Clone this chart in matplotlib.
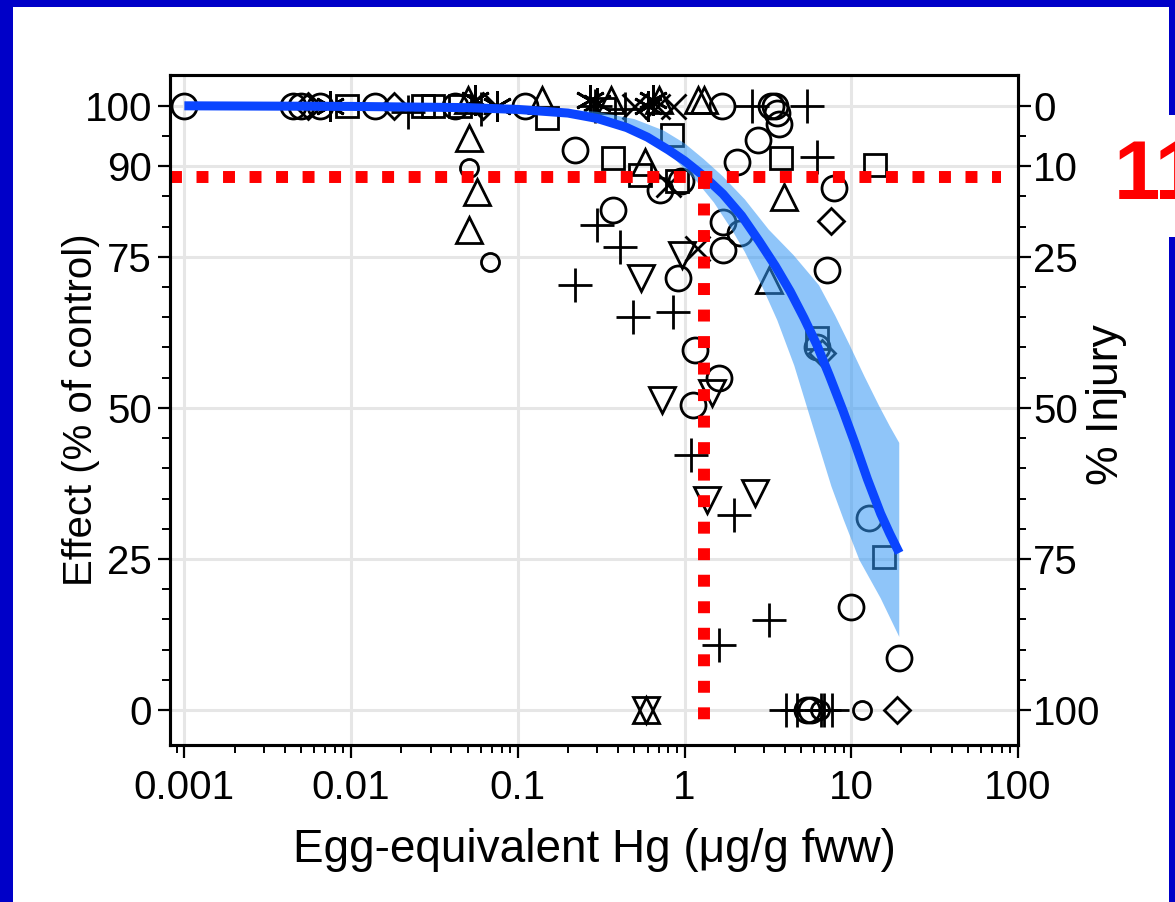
import matplotlib
matplotlib.use("Agg")
import matplotlib.pyplot as plt
from matplotlib.patches import Rectangle
from matplotlib.ticker import FixedLocator, LogLocator, NullFormatter

plt.rcParams['font.family'] = ['Liberation Sans', 'DejaVu Sans']

# ---- data (Hg in ug/g fww, effect in % of control) ----
circle_x = [0.001, 0.0045, 0.005, 0.0065, 0.014, 0.042, 0.11, 1.68, 3.3, 3.5, 3.6, 3.7,
            0.22, 0.71, 0.95, 0.37, 0.91, 1.69, 2.14, 1.69, 2.05, 2.74, 7.9, 7.2,
            1.15, 1.62, 1.12, 10.0, 19.4, 12.8, 6.2, 5.45, 5.7]
circle_y = [100, 100, 100, 100, 100, 100, 100, 100, 100, 100, 98.8, 97.0,
            92.7, 86.1, 87.5, 82.8, 71.5, 80.8, 79.0, 76.2, 90.7, 94.4, 86.4, 72.8,
            59.6, 55.0, 50.5, 17.0, 8.6, 31.8, 60.0, 0, 0]
small_circle_x = [0.051, 0.068, 11.6, 6.5]
small_circle_y = [89.7, 74.2, 0, 0]
square_x = [0.0095, 0.027, 0.031, 0.045, 0.15, 0.33, 0.37, 0.84, 0.54, 0.9, 3.8, 13.9, 6.2, 15.8]
square_y = [100, 100, 100, 100, 98.0, 99.5, 91.4, 95.2, 88.5, 87.6, 91.4, 90.2, 61.5, 25.3]
tri_up_x = [0.05, 0.14, 0.36, 0.7, 1.2, 1.3, 0.051, 0.057, 0.051, 0.58, 3.96, 3.2, 0.59]
tri_up_y = [101, 101, 101, 101, 101, 101, 94.7, 85.8, 79.5, 90.7, 84.9, 71.2, 0]
tri_down_x = [0.55, 0.97, 1.47, 0.73, 1.37, 2.63, 0.59]
tri_down_y = [71.5, 75.3, 52.5, 51.3, 34.8, 35.9, 0]
plus_x = [0.022, 0.06, 0.29, 0.44, 2.55, 5.4, 0.30, 0.41, 0.22, 0.49, 0.85, 6.25,
          1.1, 1.99, 3.23, 1.62, 4.08, 4.7, 6.6, 6.9, 7.7]
plus_y = [99.0, 99.5, 100, 99.5, 100, 100, 80.3, 76.7, 70.4, 65.0, 65.9, 91.5,
          42.2, 32.2, 14.9, 10.8, 0, 0, 0, 0, 0]
cross_x = [0.5, 0.68, 0.85, 1.18, 0.8]
cross_y = [100, 100, 100, 76.5, 87.0]
aster_x = [0.0075, 0.055, 0.075, 0.27, 0.3, 0.65, 0.6]
aster_y = [100, 101, 100, 101, 100.5, 101, 100]
diamond_x = [0.0055, 0.018, 0.062, 7.6, 6.7, 18.9]
diamond_y = [100, 100, 100, 81.0, 59.1, 0]

# fitted curve and its confidence band
curve_x = [0.001, 0.01, 0.05, 0.1, 0.2, 0.3, 0.45, 0.6, 0.8, 1.0, 1.3, 1.7, 2.2, 2.8,
           3.5, 4.3, 5.2, 6.2, 7.4, 8.9, 10.5, 12.5, 15.0, 17.0, 19.4]
curve_y = [100, 99.9, 99.7, 99.4, 98.8, 97.9, 96.4, 94.8, 92.7, 90.9, 88.4, 85.4, 81.8, 77.6,
           73.5, 69.3, 64.9, 60.5, 55.3, 49.6, 44.2, 38.2, 32.5, 29.2, 26.0]
band_upper_x = [0.15, 0.3, 0.5, 0.75, 1.0, 1.3, 1.7, 2.3, 3.2, 4.5, 6.4, 8.0, 9.7, 12.0, 14.7, 17.0, 19.4]
band_upper_y = [99.6, 99.0, 97.8, 95.9, 93.8, 91.2, 88.3, 84.5, 79.5, 75.3, 70.3, 65.3, 60.6, 55.2, 50.3, 47.0, 44.2]
band_lower_x = [19.4, 15.0, 11.2, 9.0, 7.6, 5.8, 4.55, 3.6, 2.93, 2.3, 1.94, 1.5, 1.18, 0.85, 0.6, 0.35, 0.15]
band_lower_y = [12.1, 18.5, 24.8, 31.5, 37.0, 47.5, 57.0, 64.5, 70.0, 75.8, 79.3, 84.0, 87.5, 91.5, 94.3, 97.4, 99.2]

# threshold lines
thr_effect = 88.2
thr_hg = 1.3

effect_ticks = [0, 25, 50, 75, 90, 100]
injury_labels = ['100', '75', '50', '25', '10', '0']
x_ticks = [0.001, 0.01, 0.1, 1, 10, 100]
x_labels = ['0.001', '0.01', '0.1', '1', '10', '100']

W, H = 1175, 902
fig = plt.figure(figsize=(W / 100, H / 100), dpi=100)
fig.patch.set_facecolor('#0000c8')
fig.add_artist(Rectangle((13 / W, 0), (1169 - 13) / W, (H - 7) / H, transform=fig.transFigure,
                         facecolor='white', edgecolor='none', zorder=0))
fig.add_artist(Rectangle((1150 / W, 1 - 237 / H), 30 / W, 122 / H, transform=fig.transFigure,
                         facecolor='white', edgecolor='none', zorder=0))

ax = fig.add_axes([170 / W, 1 - 745 / H, (1018 - 170) / W, (745 - 75) / H])
ax.set_xscale('log')
ax.set_xlim(0.00082, 99)
ax.set_ylim(-5.8, 105.1)

mk = dict(linestyle='none', markerfacecolor='none', markeredgecolor='black', markeredgewidth=2.0, zorder=2)
ax.plot(circle_x, circle_y, marker='o', markersize=18, **mk)
ax.plot(small_circle_x, small_circle_y, marker='o', markersize=13, **mk)
ax.plot(square_x, square_y, marker='s', markersize=16, **mk)
ax.plot(tri_up_x, tri_up_y, marker='^', markersize=19, **mk)
ax.plot(tri_down_x, tri_down_y, marker='v', markersize=19, **mk)
ax.plot(plus_x, plus_y, marker='+', markersize=25, **mk)
ax.plot(cross_x, cross_y, marker='x', markersize=18, **mk)
ax.plot(aster_x, aster_y, marker=(6, 2, 0), markersize=22, **mk)
ax.plot(diamond_x, diamond_y, marker='D', markersize=13, **mk)

ax.fill(band_upper_x + band_lower_x, band_upper_y + band_lower_y,
        color='#3396f5', alpha=0.55, linewidth=0, zorder=3)
ax.plot(curve_x, curve_y, color='#0a45ff', linewidth=6.5, solid_capstyle='butt',
        solid_joinstyle='round', zorder=4)

ax.plot([0.00082, 79], [thr_effect, thr_effect], color='#ff0000', linewidth=8.6,
        dashes=(1, 1.22), dash_capstyle='butt', zorder=5)
ax.plot([thr_hg, thr_hg], [thr_effect, -3.3], color='#ff0000', linewidth=8.6,
        dashes=(1, 1.22), dash_capstyle='butt', zorder=5)

# axes styling
ax.set_xticks(x_ticks)
ax.set_xticklabels(x_labels)
ax.xaxis.set_minor_locator(LogLocator(base=10, subs=range(2, 10)))
ax.xaxis.set_minor_formatter(NullFormatter())
ax.set_yticks(effect_ticks)
ax.set_yticklabels([str(t) for t in effect_ticks])
ax.yaxis.set_minor_locator(FixedLocator(range(0, 105, 5)))
ax.grid(True, which='major', color='#e6e6e6', linewidth=2.2, zorder=0)
ax.set_axisbelow(True)
for s in ax.spines.values():
    s.set_linewidth(2.2)
ax.tick_params(axis='both', which='major', labelsize=29, width=1.6, length=9, direction='out')
ax.tick_params(axis='y', which='major', pad=4)
ax.tick_params(axis='x', which='major', pad=8)
ax.tick_params(axis='both', which='minor', width=1.4, length=6, direction='out')

ax.set_xlabel('Egg-equivalent Hg (μg/g fww)', fontsize=33)
ax.xaxis.set_label_coords(0.5, (745 - 850) / 670)
ax.xaxis.label.set_va('center')
ax.set_ylabel('Effect (% of control)', fontsize=29)
ax.yaxis.set_label_coords((81 - 170) / 848, 0.5)
ax.yaxis.label.set_va('center')

ax2 = ax.twinx()
ax2.set_ylim(ax.get_ylim())
ax2.set_yticks(effect_ticks)
ax2.set_yticklabels(injury_labels)
ax2.yaxis.set_minor_locator(FixedLocator(range(0, 105, 5)))
ax2.tick_params(axis='y', which='major', labelsize=29, width=1.6, length=9, pad=2)
ax2.tick_params(axis='y', which='minor', width=1.4, length=6)
ax2.set_ylabel('% Injury', fontsize=32)
ax2.yaxis.set_label_coords((1107 - 170) / 848, (745 - 405) / 670)
ax2.yaxis.label.set_va('center')
for s in ax2.spines.values():
    s.set_linewidth(2.2)

fig.text(1114 / W, 1 - 177 / H, '11', color='#ff0000', fontsize=60, fontweight='bold',
         ha='left', va='center')

fig.savefig('out.png', dpi=100, facecolor=fig.get_facecolor())
